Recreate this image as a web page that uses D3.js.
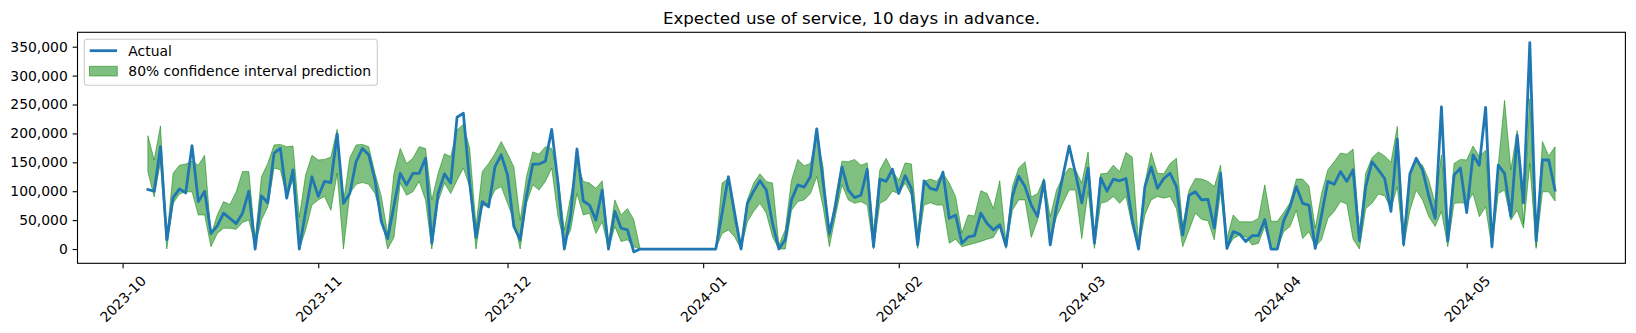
<!DOCTYPE html>
<html>
<head>
<meta charset="utf-8">
<script src="https://cdn.jsdelivr.net/npm/d3@7"></script>
<style>
  body { margin: 0; background: #fff; }
  svg { display: block; }
  text { font-family: "DejaVu Sans", sans-serif; fill: #000; }
</style>
</head>
<body>
<svg id="chart" width="1636" height="333"></svg>
<script>
// Daily series, first day 2023-10-05
const startDate = "2023-10-05";

const actual = [
  103000,100000,177000,16000,89000,104000,97000,179000,82000,100000,
  27000,40000,62000,53000,44000,62000,100000,0,92000,80000,
  166000,174000,88000,137000,0,65000,125000,91000,117000,115000,
  199000,79000,96000,151000,174000,163000,119000,47000,18000,75000,
  131000,111000,131000,131000,157000,10000,96000,130000,114000,228000,
  235000,114000,20000,82000,73000,142000,163000,128000,39000,16000,
  91000,147000,147000,152000,207000,114000,0,59000,173000,83000,
  76000,50000,102000,0,65000,36000,33000,-5000,0,0,
  0,0,0,0,0,0,0,0,0,0,
  0,62000,125000,62000,0,79000,100000,118000,102000,44000,
  0,16000,85000,111000,107000,125000,208000,117000,27000,76000,
  142000,102000,89000,93000,138000,4000,121000,117000,138000,96000,
  127000,105000,7000,118000,105000,102000,133000,53000,59000,10000,
  21000,23000,62000,44000,33000,42000,5000,91000,126000,108000,
  76000,56000,118000,7000,73000,126000,178000,131000,80000,140000,
  10000,123000,100000,121000,118000,122000,50000,0,108000,142000,
  105000,122000,131000,108000,24000,93000,99000,85000,86000,36000,
  131000,1000,30000,26000,13000,23000,23000,51000,0,0,
  49000,73000,108000,79000,76000,1000,59000,117000,112000,134000,
  117000,137000,14000,108000,151000,137000,122000,65000,190000,8000,
  130000,157000,137000,91000,53000,246000,14000,128000,140000,63000,
  163000,145000,245000,4000,145000,131000,56000,197000,80000,357000,
  14000,154000,154000,102000
];

const upper = [
  196000,154000,213000,20000,131000,145000,147000,152000,145000,162000,
  24000,59000,82000,77000,99000,134000,134000,16000,125000,148000,
  180000,181000,177000,178000,55000,128000,162000,154000,155000,159000,
  207000,80000,158000,180000,181000,177000,131000,91000,27000,131000,
  174000,148000,157000,177000,174000,85000,131000,165000,160000,206000,
  216000,174000,40000,134000,148000,165000,186000,165000,142000,50000,
  125000,168000,164000,177000,174000,125000,33000,91000,151000,117000,
  114000,105000,118000,10000,85000,59000,70000,51000,1000,0,
  0,0,0,0,0,0,0,0,0,0,
  0,114000,122000,47000,10000,85000,114000,130000,117000,114000,
  7000,33000,119000,155000,144000,148000,197000,142000,21000,91000,
  152000,151000,155000,145000,149000,30000,137000,157000,135000,119000,
  149000,147000,30000,117000,121000,117000,131000,114000,91000,28000,
  59000,57000,101000,96000,70000,118000,10000,108000,140000,151000,
  90000,96000,122000,56000,102000,125000,140000,137000,114000,168000,
  21000,130000,131000,145000,134000,167000,159000,10000,114000,167000,
  131000,130000,148000,157000,39000,102000,122000,121000,117000,108000,
  145000,18000,59000,47000,47000,47000,53000,111000,48000,48000,
  63000,80000,121000,121000,109000,36000,96000,137000,151000,166000,
  164000,173000,27000,131000,158000,168000,161000,150000,212000,27000,
  131000,151000,145000,119000,79000,163000,21000,148000,155000,154000,
  178000,160000,171000,10000,145000,257000,137000,205000,44000,260000,
  4000,186000,161000,177000
];

const lower = [
  134000,90000,150000,0,79000,95000,99000,99000,59000,59000,
  4000,27000,36000,36000,34000,46000,50000,7000,50000,73000,
  140000,137000,90000,120000,0,33000,76000,85000,91000,67000,
  131000,0,96000,112000,115000,112000,96000,56000,0,20000,
  114000,93000,99000,117000,85000,0,82000,114000,96000,119000,
  140000,108000,0,73000,79000,102000,108000,79000,50000,0,
  79000,111000,102000,117000,140000,56000,10000,33000,96000,59000,
  62000,27000,47000,0,39000,13000,16000,4000,0,0,
  0,0,0,0,0,0,0,0,0,0,
  0,27000,33000,21000,0,47000,65000,79000,62000,21000,
  0,0,67000,82000,85000,96000,125000,73000,4000,59000,
  111000,85000,79000,82000,76000,0,79000,85000,100000,96000,
  114000,93000,1000,76000,80000,76000,76000,10000,17000,4000,
  7000,10000,13000,17000,20000,39000,1000,67000,85000,85000,
  20000,50000,108000,16000,56000,79000,102000,102000,18000,100000,
  1000,79000,82000,91000,79000,91000,39000,0,59000,85000,
  91000,88000,91000,70000,4000,33000,62000,51000,49000,16000,
  100000,1000,18000,24000,21000,7000,10000,39000,0,1000,
  30000,39000,67000,18000,30000,4000,16000,53000,65000,82000,
  78000,17000,0,70000,79000,95000,92000,70000,108000,4000,
  67000,102000,85000,56000,39000,65000,4000,79000,80000,79000,
  96000,56000,73000,1000,96000,102000,50000,67000,36000,148000,
  1000,99000,99000,83000
];

const yTickValues = [0, 50000, 100000, 150000, 200000, 250000, 300000, 350000];
const xTickLabels = ["2023-10", "2023-11", "2023-12", "2024-01", "2024-02", "2024-03", "2024-04", "2024-05"];
const legendLabels = ["Actual", "80% confidence interval prediction"];
const titleText = "Expected use of service, 10 days in advance.";

// ---- layout ----
const svg = d3.select("#chart");
const plot = { left: 77.5, right: 1625.4, top: 32.3, bottom: 263.3 };
const tickFont = 13.9;
const tickLen = 4.86, tickPad = 4.86;
const lineBlue = "#1f77b4";

const parseDay = d3.utcParse("%Y-%m-%d");
const first = parseDay(startDate);
const rows = actual.map((v, i) => ({
  date: d3.utcDay.offset(first, i),
  actual: v,
  lo: lower[i],
  hi: upper[i]
}));

const last = rows[rows.length - 1].date;
const span = last - first;
const x = d3.scaleUtc()
  .domain([new Date(+first - 0.05 * span), new Date(+last + 0.05 * span)])
  .range([plot.left, plot.right]);

const y = d3.scaleLinear()
  .domain([-24700, 374900])
  .range([plot.bottom, plot.top]);

// confidence band
const band = d3.area()
  .x(d => x(d.date))
  .y0(d => y(d.lo))
  .y1(d => y(d.hi));

svg.append("path")
  .datum(rows)
  .attr("d", band)
  .attr("fill", "green")
  .attr("fill-opacity", 0.5)
  .attr("stroke", "green")
  .attr("stroke-opacity", 0.5)
  .attr("stroke-width", 1);

// actual usage line
const line = d3.line()
  .x(d => x(d.date))
  .y(d => y(d.actual));

svg.append("path")
  .datum(rows)
  .attr("d", line)
  .attr("fill", "none")
  .attr("stroke", lineBlue)
  .attr("stroke-width", 2.78)
  .attr("stroke-linejoin", "round")
  .attr("stroke-linecap", "square");

// frame
svg.append("rect")
  .attr("x", plot.left).attr("y", plot.top)
  .attr("width", plot.right - plot.left)
  .attr("height", plot.bottom - plot.top)
  .attr("fill", "none")
  .attr("stroke", "#000")
  .attr("stroke-width", 1.1);

// y axis
const yAxis = svg.append("g")
  .attr("transform", `translate(${plot.left},0)`)
  .call(d3.axisLeft(y)
    .tickValues(yTickValues)
    .tickFormat(d3.format(","))
    .tickSize(tickLen)
    .tickPadding(tickPad));
yAxis.select(".domain").remove();
yAxis.selectAll(".tick line").attr("stroke", "#000").attr("stroke-width", 1.1);
yAxis.selectAll(".tick text")
  .attr("font-size", tickFont)
  .attr("font-family", "DejaVu Sans")
  .attr("fill", "#000");

// x axis: month starts, labels rotated 45 degrees
const monthTicks = xTickLabels.map(s => parseDay(s + "-01"));
const xAxis = svg.append("g")
  .attr("transform", `translate(0,${plot.bottom})`)
  .call(d3.axisBottom(x)
    .tickValues(monthTicks)
    .tickFormat((d, i) => xTickLabels[i])
    .tickSize(tickLen)
    .tickPadding(tickPad));
xAxis.select(".domain").remove();
xAxis.selectAll(".tick line").attr("stroke", "#000").attr("stroke-width", 1.1);
xAxis.selectAll(".tick text")
  .attr("font-size", tickFont)
  .attr("font-family", "DejaVu Sans")
  .attr("fill", "#000")
  .attr("text-anchor", "middle")
  .attr("y", 0)
  .attr("dy", "0.35em")
  .each(function () {
    const w = this.getComputedTextLength();
    const h = tickFont * 1.1;
    const half = (w + h) * Math.SQRT1_2 / 2;
    d3.select(this).attr("transform", `translate(0,${tickLen + tickPad + half}) rotate(-45)`);
  });

// title
svg.append("text")
  .attr("x", (plot.left + plot.right) / 2)
  .attr("y", plot.top - 8.3)
  .attr("text-anchor", "middle")
  .attr("font-size", 16.67)
  .text(titleText);

// legend
const lg = svg.append("g");
lg.append("rect")
  .attr("x", 84.3).attr("y", 39.3)
  .attr("width", 293).attr("height", 46)
  .attr("rx", 2.8)
  .attr("fill", "#fff").attr("fill-opacity", 0.8)
  .attr("stroke", "#cccccc").attr("stroke-width", 1.1);
lg.append("line")
  .attr("x1", 89.7).attr("x2", 117.1)
  .attr("y1", 50.7).attr("y2", 50.7)
  .attr("stroke", lineBlue).attr("stroke-width", 2.78);
lg.append("text")
  .attr("x", 128.3).attr("y", 50.7).attr("dy", "0.35em")
  .attr("font-size", tickFont)
  .text(legendLabels[0]);
lg.append("rect")
  .attr("x", 89.5).attr("y", 66.3)
  .attr("width", 27.8).attr("height", 9.7)
  .attr("fill", "green").attr("fill-opacity", 0.5)
  .attr("stroke", "green").attr("stroke-opacity", 0.5).attr("stroke-width", 1);
lg.append("text")
  .attr("x", 128.3).attr("y", 71.2).attr("dy", "0.35em")
  .attr("font-size", tickFont)
  .text(legendLabels[1]);
</script>
</body>
</html>
